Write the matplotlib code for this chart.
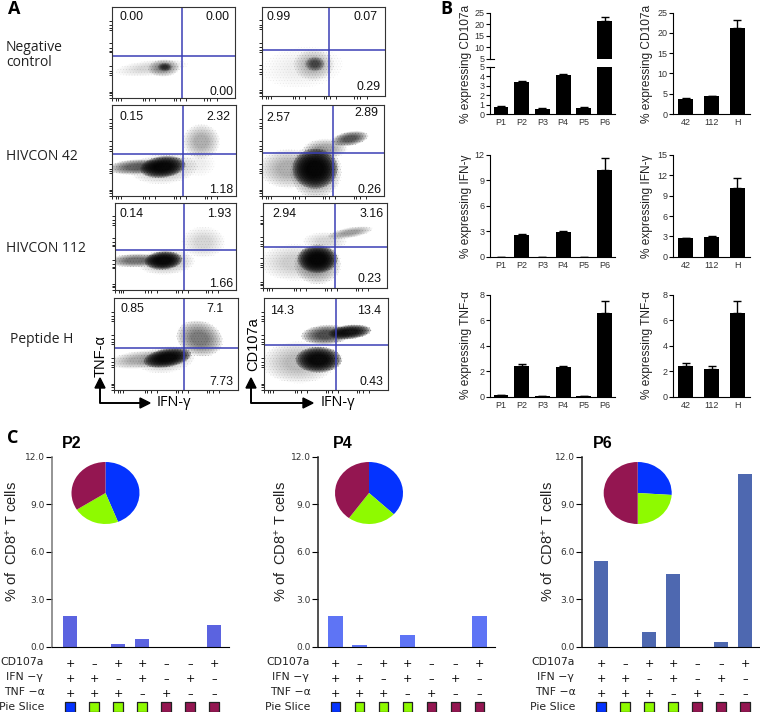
import matplotlib
matplotlib.use('Agg')
import matplotlib.pyplot as plt
from matplotlib.patches import Ellipse

plt.rcParams['font.family'] = ['Liberation Sans', 'DejaVu Sans']
plt.rcParams['mathtext.default'] = 'regular'
plt.rcParams['hatch.linewidth'] = 0.3

W, H = 760, 712

# panel A
row_names = ['Negative\ncontrol', 'HIVCON 42', 'HIVCON 112', 'Peptide H']
gate_values = [
    ['0.00', '0.00', '0.00'], ['0.99', '0.07', '0.29'],
    ['0.15', '2.32', '1.18'], ['2.57', '2.89', '0.26'],
    ['0.14', '1.93', '1.66'], ['2.94', '3.16', '0.23'],
    ['0.85', '7.1', '7.73'], ['14.3', '13.4', '0.43'],
]
# dot clouds, one outline per population: x, y, w, h, angle, density
clouds = [
    [(.32, .33, .50, .14, 8, .06), (.42, .33, .22, .16, 5, .2), (.43, .34, .10, .08, 0, .4)],
    [(.33, .32, .55, .38, 10, .03), (.42, .35, .28, .30, 0, .12), (.43, .36, .14, .14, 0, .35)],
    [(.20, .32, .40, .14, 5, .35), (.42, .30, .46, .28, 8, .1), (.41, .32, .32, .20, 12, 1), (.72, .60, .25, .32, 0, .14), (.70, .35, .22, .22, 0, .02)],
    [(.22, .30, .42, .36, 0, .14), (.44, .27, .36, .50, 0, .22), (.435, .30, .32, .38, 0, 1), (.72, .63, .26, .13, 15, .4), (.52, .52, .30, .18, 0, .16)],
    [(.17, .34, .38, .13, 3, .3), (.42, .32, .40, .24, 5, .12), (.40, .34, .27, .18, 8, 1), (.73, .55, .30, .30, 0, .07)],
    [(.26, .30, .48, .36, 0, .08), (.44, .28, .32, .40, 0, .22), (.44, .34, .28, .28, 0, 1), (.70, .65, .32, .10, 15, .18), (.50, .55, .30, .18, 0, .07)],
    [(.22, .33, .45, .16, 8, .16), (.42, .33, .40, .24, 12, .1), (.43, .35, .34, .17, 15, 1), (.69, .56, .30, .35, 35, .28)],
    [(.28, .30, .50, .38, 0, .12), (.44, .33, .32, .24, 0, 1), (.50, .60, .34, .18, 5, .45), (.69, .63, .30, .13, 8, .85)],
]

# panel B
peptides = ['P1', 'P2', 'P3', 'P4', 'P5', 'P6']
pools = ['42', '112', 'H']
cd107a_pep = [0.7, 3.4, 0.55, 4.1, 0.65, 21.2]
cd107a_pep_err = [0.1, 0.15, 0.08, 0.2, 0.05, 2.1]
ifng_pep = [0, 2.6, 0, 2.9, 0, 10.2]
ifng_pep_err = [0, 0.1, 0, 0.12, 0, 1.4]
tnfa_pep = [0.1, 2.4, 0.05, 2.3, 0.03, 6.6]
tnfa_pep_err = [0.03, 0.18, 0.01, 0.1, 0.01, 0.9]
cd107a_pool = [3.7, 4.4, 21.2]
cd107a_pool_err = [0.15, 0.1, 2.1]
ifng_pool = [2.7, 2.9, 10.2]
ifng_pool_err = [0.1, 0.08, 1.4]
tnfa_pool = [2.45, 2.2, 6.6]
tnfa_pool_err = [0.2, 0.22, 0.9]

# panel C
subset_p2 = [1.95, 0, 0.15, 0.5, 0, 0, 1.4]
subset_p4 = [1.95, 0.1, 0, 0.75, 0, 0, 1.95]
subset_p6 = [5.4, 0, 0.95, 4.6, 0, 0.3, 10.9]
pie_p2 = [44, 22, 34]
pie_p4 = [37, 23, 40]
pie_p6 = [26, 24, 50]
cd107a_signs = ['+', '–', '+', '+', '–', '–', '+']
ifng_signs = ['+', '+', '–', '+', '–', '+', '–']
tnfa_signs = ['+', '+', '+', '–', '+', '–', '–']
slice_index = [0, 1, 1, 1, 2, 2, 2]
slice_colors = ['#0433ff', '#8efa00', '#941651']

fig = plt.figure(figsize=(W / 100, H / 100), dpi=100)


def axes_px(x0, y0, x1, y1, **kw):
    return fig.add_axes([x0 / W, 1 - y1 / H, (x1 - x0) / W, (y1 - y0) / H], **kw)


def txt(x, y, s, **kw):
    kw.setdefault('ha', 'center')
    kw.setdefault('va', 'center')
    return fig.text(x / W, 1 - y / H, s, **kw)


def flow_panel(box, vline, hline, values, spots, blobs):
    x0, y0, x1, y1 = box
    ax = axes_px(x0, y0, x1, y1)
    ax.set_xlim(0, 1)
    ax.set_ylim(0, 1)
    for (x, y, w, h, angle, density) in blobs:
        # stippled rim, then a soft core so the outline fades out like a dot cloud
        ax.add_patch(Ellipse((x, y), w * 1.2, h * 1.2, angle=angle, facecolor='none', edgecolor='#777777',
                             hatch='.' * 6, linewidth=0, alpha=min(.8, density + .1)))
        for scale in (1.15, 1.05, .95, .85, .75, .65, .55, .45):
            ax.add_patch(Ellipse((x, y), w * scale, h * scale, angle=angle, facecolor='black',
                                 alpha=density * .3, linewidth=0))
    ax.axvline((vline - x0) / (x1 - x0), color='#3a3fb5', lw=1.1)
    ax.axhline((y1 - hline) / (y1 - y0), color='#3a3fb5', lw=1.1)
    ticks = [0, .03, .05, .07, .25, .27, .3, .35, .5, .52, .55, .6, .75, .77, .8, .85]
    ax.set_xticks(ticks)
    ax.set_yticks(ticks)
    ax.tick_params(length=2, width=0.6, labelbottom=False, labelleft=False, pad=1)
    for s in ax.spines.values():
        s.set_linewidth(0.8)
        s.set_color('#333333')
    for (px, py), v in zip(spots, values):
        txt(px, py, v, fontsize=8.9, color='#111111')


flow_boxes = [
    (112, 7, 235, 98), (262, 7, 385, 96),
    (112, 105, 236, 196), (262, 105, 384, 196),
    (115, 203, 236, 290), (263, 203, 387, 288),
    (114, 298, 238, 390), (264, 298, 388, 390),
]
flow_gates = [(182, 56), (329, 50), (183, 154), (333, 153),
              (183.5, 250), (335, 247), (184, 348), (336, 345)]
flow_spots = [
    [(132, 17), (218, 17), (221, 92)], [(279, 17), (366, 17), (369, 87)],
    [(132, 117), (218, 117), (221, 190)], [(278, 118), (366, 113), (369, 190)],
    [(132, 214), (219, 214), (221, 284)], [(284, 214), (372, 214), (370, 279)],
    [(132, 309), (215, 309), (221, 382)], [(282, 311), (369, 311), (371, 382)],
]
for i in range(8):
    flow_panel(flow_boxes[i], flow_gates[i][0], flow_gates[i][1], gate_values[i],
               flow_spots[i], clouds[i])

for name, (x, y) in zip(row_names, [(6, 55), (6, 157), (6, 249), (10, 340)]):
    txt(x, y, name, ha='left', fontsize=10, family='Open Sans', linespacing=1.05, color='#222222')

# gating arrows
for ox, ex in [(100, 150), (251, 313)]:
    fig.add_artist(plt.Line2D([ox / W, ox / W, (ex - 8) / W], [1 - 380 / H, 1 - 403 / H, 1 - 403 / H],
                              color='black', lw=1.4))
    arrow_up = plt.Polygon([((ox - 5) / W, 1 - 388 / H), ((ox + 5) / W, 1 - 388 / H), (ox / W, 1 - 378 / H)],
                           color='black', transform=fig.transFigure)
    arrow_right = plt.Polygon([((ex - 10) / W, 1 - 398 / H), ((ex - 10) / W, 1 - 408 / H), (ex / W, 1 - 403 / H)],
                              color='black', transform=fig.transFigure)
    fig.add_artist(arrow_up)
    fig.add_artist(arrow_right)
txt(101, 356, 'TNF-α', rotation=90, fontsize=10.5)
txt(253, 344, 'CD107a', rotation=90, fontsize=10.5)
txt(174, 403, 'IFN-γ', fontsize=10.5, family=['Open Sans', 'DejaVu Sans'])
txt(338, 403, 'IFN-γ', fontsize=10.5, family=['Open Sans', 'DejaVu Sans'])

txt(14, 9, 'A', fontsize=13, fontweight='bold', family='Open Sans')
txt(446, 9, 'B', fontsize=13, fontweight='bold', family='Open Sans')
txt(13, 438, 'C', fontsize=13, fontweight='bold', family='Open Sans')


def style_bar_axis(ax):
    ax.spines['top'].set_visible(False)
    ax.spines['right'].set_visible(False)
    ax.tick_params(axis='y', length=3, width=0.8, labelsize=6.5, pad=1, labelcolor='#333333')
    ax.tick_params(axis='x', length=0, labelsize=6.5, pad=3, labelcolor='#333333')
    ax.patch.set_alpha(0)


def draw_bars(ax, values, errs, width):
    pos = range(len(values))
    ax.bar(pos, values, width=width, color='black')
    ax.errorbar(pos, values, yerr=[[0] * len(errs), errs], fmt='none', ecolor='black',
                elinewidth=1, capsize=3.2, capthick=1)


pep_xlim = (-.53, 5.5)
pool_xlim = (-.5, 2.49)

# broken CD107a axis
low = axes_px(490, 67, 615, 114)
draw_bars(low, cd107a_pep, cd107a_pep_err, .72)
low.set_xlim(*pep_xlim)
low.set_ylim(0, 5)
low.set_yticks([0, 1, 2, 3, 4, 5])
low.set_xticks(range(6))
low.set_xticklabels(peptides)
style_bar_axis(low)
high = axes_px(490, 12.7, 615, 59)
draw_bars(high, cd107a_pep, cd107a_pep_err, .72)
high.set_xlim(*pep_xlim)
high.set_ylim(5, 25)
high.set_yticks([5, 10, 15, 20, 25])
high.set_xticks([])
style_bar_axis(high)
high.spines['bottom'].set_visible(False)
high.plot([-.53, -.33], [5, 5], color='black', lw=0.8, clip_on=False)
low.plot([-.53, -.33], [5, 5], color='black', lw=0.8, clip_on=False)

bar_rows = [
    (155, 256.7, ifng_pep, ifng_pep_err, (0, 12), [0, 3, 6, 9, 12],
     ifng_pool, ifng_pool_err, (0, 15), [0, 3, 6, 9, 12, 15]),
    (295, 396.7, tnfa_pep, tnfa_pep_err, (0, 8), [0, 2, 4, 6, 8],
     tnfa_pool, tnfa_pool_err, (0, 8), [0, 2, 4, 6, 8]),
]
for top, base, pv, pe, pl, pt, qv, qe, ql, qt in bar_rows:
    ax = axes_px(490, top, 615, base)
    draw_bars(ax, pv, pe, .72)
    ax.set_xlim(*pep_xlim)
    ax.set_ylim(*pl)
    ax.set_yticks(pt)
    ax.set_xticks(range(6))
    ax.set_xticklabels(peptides)
    style_bar_axis(ax)
    ax = axes_px(673, top, 750, base)
    draw_bars(ax, qv, qe, .58)
    ax.set_xlim(*pool_xlim)
    ax.set_ylim(*ql)
    ax.set_yticks(qt)
    ax.set_xticks(range(3))
    ax.set_xticklabels(pools)
    style_bar_axis(ax)

ax = axes_px(673, 12.7, 750, 114)
draw_bars(ax, cd107a_pool, cd107a_pool_err, .58)
ax.set_xlim(*pool_xlim)
ax.set_ylim(0, 25)
ax.set_yticks([0, 5, 10, 15, 20, 25])
ax.set_xticks(range(3))
ax.set_xticklabels(pools)
style_bar_axis(ax)

for x in (466, 647):
    txt(x, 64, '% expressing CD107a', rotation=90, fontsize=8.6, color='#222222')
    txt(x, 206, '% expressing IFN-γ', rotation=90, fontsize=8.6, color='#222222')
    txt(x, 345, '% expressing TNF-α', rotation=90, fontsize=8.6, color='#222222')


def polyfunction_panel(title, title_x, axis_x, first_x, right_x, ylabel_x, label_x, values, color,
                       axis_color, pie_vals, pie_x):
    spacing = 24
    ax = axes_px(axis_x, 456.7, right_x, 646.7)
    ax.bar(range(7), values, width=.62, color=color)
    ax.set_xlim((axis_x - first_x) / spacing, (right_x - first_x) / spacing)
    ax.set_ylim(0, 12)
    ax.set_yticks([0, 3, 6, 9, 12])
    ax.set_yticklabels(['0.0', '3.0', '6.0', '9.0', '12.0'], family='DejaVu Sans')
    ax.set_xticks([])
    ax.tick_params(axis='y', length=4, width=0.8, labelsize=6.5, pad=1, labelcolor='#333333')
    ax.spines['top'].set_visible(False)
    ax.spines['right'].set_visible(False)
    ax.spines['left'].set_color(axis_color)
    ax.spines['left'].set_linewidth(1.1)
    ax.patch.set_alpha(0)

    trans = ax.get_xaxis_transform()
    rows = [(664, cd107a_signs), (679, ifng_signs), (694, tnfa_signs)]
    for y, signs in rows:
        for i, s in enumerate(signs):
            ax.text(i, (646.7 - y) / 190, s, transform=trans, ha='center', va='center',
                    fontsize=8, clip_on=False, family='DejaVu Sans')
    ax.scatter(range(7), [(646.7 - 707) / 190] * 7, transform=trans, marker='s', s=42,
               c=[slice_colors[k] for k in slice_index], edgecolors='#222222', linewidths=0.9, clip_on=False)

    row_font = dict(ha='right', fontsize=7.8, family='DejaVu Sans', color='#222222')
    txt(label_x, 662, 'CD107a', **row_font)
    txt(label_x - 1, 677, 'IFN −γ', **row_font)
    txt(label_x + 1, 692, 'TNF −α', **row_font)
    txt(label_x, 707, 'Pie Slice', **row_font)

    txt(ylabel_x, 541, '% of  CD8$^{+}$ T cells', rotation=90, fontsize=10.5, color='#222222')
    txt(title_x, 443, title, fontsize=11.5, fontweight='bold')

    pie_ax = axes_px(pie_x - 34, 462, pie_x + 34, 524)
    pie_ax.pie(pie_vals, colors=slice_colors, startangle=90, counterclock=False, radius=1)
    pie_ax.set_aspect('auto')
    pie_ax.set_xlim(-1, 1)
    pie_ax.set_ylim(-1, 1)


polyfunction_panel('P2', 72, 52, 70, 229, 12, 44, subset_p2, '#5b63e0', '#777777', pie_p2, 105.5)
polyfunction_panel('P4', 343, 317.7, 335.7, 495, 281, 310, subset_p4, '#5e74f5', '#222222', pie_p4, 369)
polyfunction_panel('P6', 603, 582, 601, 760, 548, 575, subset_p6, '#4e68b0', '#222222', pie_p6, 637.7)

fig.savefig('out.png', dpi=100)
